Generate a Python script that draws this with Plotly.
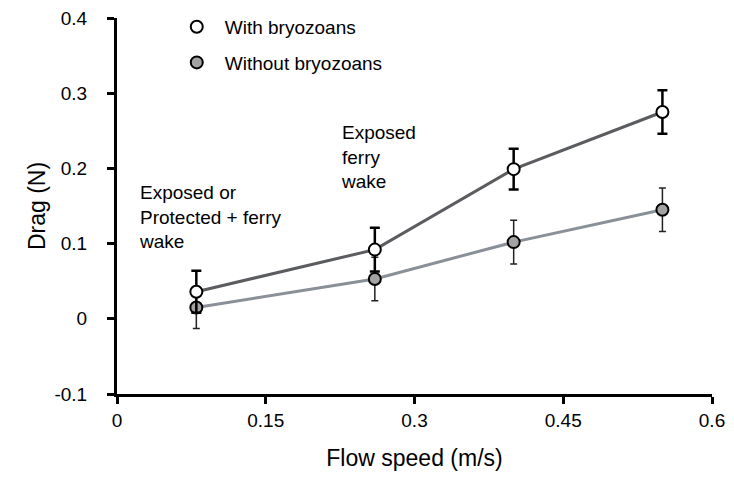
import plotly.graph_objects as go

flow_speed = [0.08, 0.26, 0.40, 0.55]
with_bryo = [0.036, 0.092, 0.199, 0.275]
with_err = [0.028, 0.029, 0.027, 0.029]
without_bryo = [0.015, 0.053, 0.102, 0.145]
without_err = [0.028, 0.029, 0.029, 0.029]
x_ticks = [0, 0.15, 0.3, 0.45, 0.6]
x_tick_labels = ["0", "0.15", "0.3", "0.45", "0.6"]
y_ticks = [-0.1, 0, 0.1, 0.2, 0.3, 0.4]
y_tick_labels = ["-0.1", "0", "0.1", "0.2", "0.3", "0.4"]

FONT = "Liberation Sans, Arial, Helvetica, sans-serif"
fig = go.Figure()

fig.add_trace(go.Scatter(
    x=flow_speed, y=without_bryo, mode="lines+markers", showlegend=False,
    line=dict(color="#8a9098", width=3),
    marker=dict(size=12, color="#a3a3a3", line=dict(color="black", width=2)),
    error_y=dict(type="data", array=without_err, color="#222222", thickness=1.5, width=3.5),
))
fig.add_trace(go.Scatter(
    x=flow_speed, y=with_bryo, mode="lines+markers", showlegend=False,
    line=dict(color="#5a5c60", width=3),
    marker=dict(size=12, color="white", line=dict(color="black", width=2)),
    error_y=dict(type="data", array=with_err, color="black", thickness=2.5, width=5),
))
# legend-only entries
fig.add_trace(go.Scatter(
    x=[None], y=[None], mode="markers", name="With bryozoans", legendgroup="a",
    marker=dict(size=12, color="white", line=dict(color="black", width=2)),
))
fig.add_trace(go.Scatter(
    x=[None], y=[None], mode="markers", name="Without bryozoans", legendgroup="b",
    marker=dict(size=12, color="#a3a3a3", line=dict(color="black", width=2)),
))

fig.add_annotation(x=0.020, y=0.136, xref="x", yref="y", xanchor="left", yanchor="middle",
                   align="left", showarrow=False,
                   text="Exposed or<br>Protected + ferry<br>wake",
                   font=dict(size=19, color="black", family=FONT))
fig.add_annotation(x=0.224, y=0.215, xref="x", yref="y", xanchor="left", yanchor="middle",
                   align="left", showarrow=False,
                   text="Exposed<br>ferry<br>wake",
                   font=dict(size=19, color="black", family=FONT))

fig.update_layout(
    width=726, height=463,
    margin=dict(l=109, r=22, t=10, b=77, autoexpand=False),
    plot_bgcolor="white", paper_bgcolor="white",
    font=dict(family=FONT, size=19, color="black"),
    legend=dict(x=0.087, y=1.027, xanchor="left", yanchor="top",
                bgcolor="rgba(0,0,0,0)", tracegroupgap=8, itemwidth=46,
                font=dict(size=19, family=FONT)),
    xaxis=dict(range=[0, 0.6], tickvals=x_ticks, ticktext=x_tick_labels,
               showline=True, linecolor="black", linewidth=3,
               ticks="outside", ticklen=7, tickwidth=3, tickcolor="black",
               showgrid=False, zeroline=False, ticklabeloverflow="allow",
               title=dict(text="Flow speed (m/s)", standoff=23)),
    yaxis=dict(range=[-0.1, 0.4], tickvals=y_ticks, ticktext=y_tick_labels,
               showline=True, linecolor="black", linewidth=3,
               ticks="outside", ticklen=7, tickwidth=3, tickcolor="black",
               showgrid=False, zeroline=False, ticklabelstandoff=16,
               ticklabeloverflow="allow",
               title=dict(text="Drag (N)", standoff=3)),
)

fig.write_html("out.html")
